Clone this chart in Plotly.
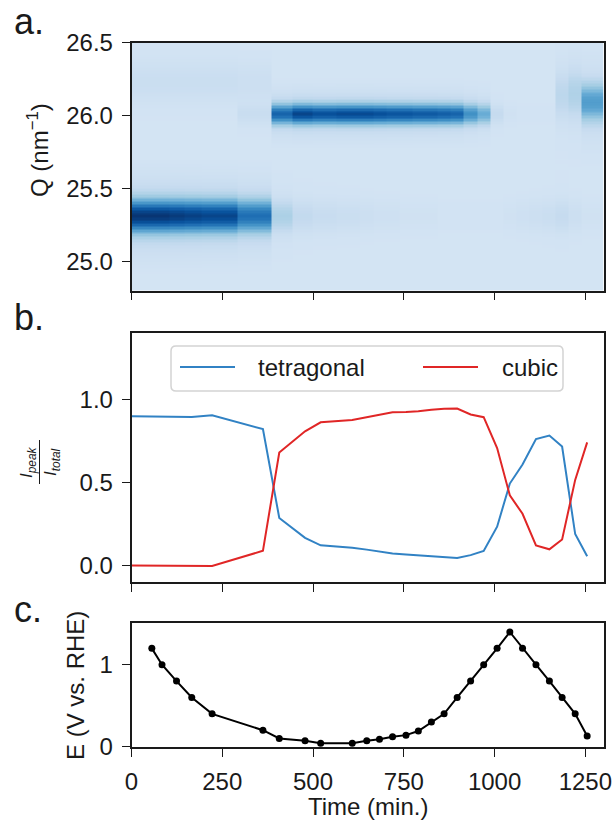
import numpy as np
import plotly.graph_objects as go

# ---------------- data ----------------
# panel c: applied potential
time_c = [56, 84, 124, 166, 222, 362, 407, 478, 521, 608, 648, 683, 719, 756, 790,
          826, 861, 897, 934, 970, 1007, 1042, 1077, 1114, 1151, 1186, 1222, 1255]
potential = [1.2, 1.0, 0.8, 0.6, 0.4, 0.2, 0.1, 0.07, 0.04, 0.04, 0.07, 0.09, 0.12, 0.14, 0.19,
             0.3, 0.4, 0.6, 0.8, 1.0, 1.2, 1.4, 1.2, 1.0, 0.8, 0.6, 0.4, 0.13]

# panel b: phase fractions
time_b = [0, 56, 84, 124, 166, 222, 362, 407, 478, 521, 608, 648, 683, 719, 756, 790,
          826, 861, 897, 934, 970, 1007, 1042, 1077, 1114, 1151, 1186, 1222, 1255]
tetragonal = [0.898, 0.898, 0.898, 0.897, 0.894, 0.904, 0.821, 0.286, 0.166, 0.121, 0.107,
              0.095, 0.082, 0.072, 0.065, 0.060, 0.052, 0.046, 0.045, 0.062, 0.087, 0.233,
              0.493, 0.608, 0.761, 0.782, 0.716, 0.189, 0.055]
cubic = [0.000, 0.000, 0.000, 0.000, 0.001, -0.003, 0.088, 0.680, 0.808, 0.862, 0.876,
         0.894, 0.908, 0.922, 0.924, 0.928, 0.938, 0.944, 0.945, 0.909, 0.893, 0.707,
         0.422, 0.311, 0.120, 0.097, 0.156, 0.515, 0.741]
series_names = ['tetragonal', 'cubic']

# panel a: diffraction map, one column per scan (columns centred on time_c)
tet_amp = [0.80, 0.80, 0.78, 0.76, 0.74, 0.58, 0.15, 0.08, 0.06, 0.05, 0.04, 0.03, 0.03, 0.02,
           0.02, 0.02, 0.01, 0.01, 0.01, 0.01, 0.01, 0.02, 0.03, 0.04, 0.05, 0.07, 0.04, 0.02]
cub_amp = [0.00, 0.00, 0.00, 0.00, 0.00, 0.05, 0.62, 0.74, 0.70, 0.72, 0.72, 0.70, 0.68, 0.68,
           0.66, 0.66, 0.64, 0.62, 0.45, 0.33, 0.07, 0.02, 0.01, 0.01, 0.01, 0.10, 0.14, 0.40]
cub_pos = [26.01] * 25 + [26.14, 26.15, 26.09]
cub_width = [0.8] * 25 + [2.0, 2.0, 1.5]
upper_amp = [0.05, 0.05, 0.05, 0.05, 0.05, 0.04] + [0.0] * 22
background = 0.18
tet_pos = 25.31
tet_width = 1.3
upper_pos = 26.23
upper_width = 1.6
# peak line-shape (relative intensity vs |dQ| in nm^-1)
profile_offset = [0.0, 0.02, 0.04, 0.06, 0.08, 0.10, 0.12, 0.14, 0.16, 0.18, 0.20, 0.22,
                  0.24, 0.26, 0.28, 0.30]
profile_value = [1.0, 0.95, 0.82, 0.62, 0.42, 0.27, 0.17, 0.11, 0.08, 0.06, 0.045, 0.035,
                 0.025, 0.018, 0.012, 0.006]

q_grid = np.round(np.arange(24.80, 26.5001, 0.01), 3)
x_ticks = [0, 250, 500, 750, 1000, 1250]
x_range = [0, 1300]

# ---------------- build map ----------------
def shape(q, centre, width):
    return np.interp(np.abs(q - centre) / width, profile_offset, profile_value, right=0.0)

cols = []
for i in range(len(time_c)):
    col = (background
           + tet_amp[i] * shape(q_grid, tet_pos, tet_width)
           + cub_amp[i] * shape(q_grid, cub_pos[i], cub_width[i])
           + upper_amp[i] * shape(q_grid, upper_pos, upper_width))
    cols.append(col)
z = np.clip(np.array(cols).T, 0, 1)

edges = [x_range[0]] + [(time_c[i] + time_c[i + 1]) / 2 for i in range(len(time_c) - 1)] + [x_range[1]]

blues = [[0.0, '#f7fbff'], [0.125, '#deebf7'], [0.25, '#c6dbef'], [0.375, '#9ecae1'],
         [0.5, '#6baed6'], [0.625, '#4292c6'], [0.75, '#2171b5'], [0.875, '#08519c'],
         [1.0, '#08306b']]

# ---------------- figure ----------------
W, H = 613, 824
FONT = 'Liberation Sans'
FS = 24
INK = '#1a1a1a'
BLUE = '#3182c4'
RED = '#e02626'

def px(x):
    return x / W

def py(y):
    return 1 - y / H

xdom = [px(131.5), px(603.5)]
dom_a = [py(290.5), py(42.7)]
dom_b = [py(582), py(333)]
dom_c = [py(747), py(623)]

fig = go.Figure()
fig.add_trace(go.Heatmap(x=edges, y=q_grid, z=z, colorscale=blues, zmin=0, zmax=1,
                         showscale=False, xaxis='x', yaxis='y', hoverinfo='skip'))
fig.add_trace(go.Scatter(x=time_b, y=tetragonal, mode='lines', name=series_names[0],
                         line=dict(color=BLUE, width=2), xaxis='x2', yaxis='y2'))
fig.add_trace(go.Scatter(x=time_b, y=cubic, mode='lines', name=series_names[1],
                         line=dict(color=RED, width=2), xaxis='x2', yaxis='y2'))
fig.add_trace(go.Scatter(x=time_c, y=potential, mode='lines+markers',
                         line=dict(color='black', width=2), marker=dict(color='black', size=7),
                         xaxis='x3', yaxis='y3'))

axis_common = dict(showline=True, linecolor=INK, linewidth=1.5, mirror=True,
                   ticks='outside', ticklen=8, tickwidth=1.3, tickcolor=INK,
                   ticklabelstandoff=4, automargin=False,
                   showgrid=False, zeroline=False, tickfont=dict(family=FONT, size=FS, color=INK))

fig.update_layout(
    width=W, height=H, margin=dict(l=0, r=0, t=0, b=0, autoexpand=False),
    paper_bgcolor='white', plot_bgcolor='white', showlegend=False,
    font=dict(family=FONT, size=FS, color=INK),
    xaxis=dict(domain=xdom, range=x_range, tickvals=x_ticks, showticklabels=False, anchor='y', **axis_common),
    yaxis=dict(domain=dom_a, range=[24.8, 26.5], tickvals=[25.0, 25.5, 26.0, 26.5],
               ticktext=['25.0', '25.5', '26.0', '26.5'], anchor='x', **axis_common),
    xaxis2=dict(domain=xdom, range=x_range, tickvals=x_ticks, showticklabels=False, anchor='y2', **axis_common),
    yaxis2=dict(domain=dom_b, range=[-0.1, 1.4], tickvals=[0.0, 0.5, 1.0],
                ticktext=['0.0', '0.5', '1.0'], anchor='x2', **axis_common),
    xaxis3=dict(domain=xdom, range=x_range, tickvals=x_ticks, anchor='y3', **axis_common),
    yaxis3=dict(domain=dom_c, range=[-0.005, 1.51], tickvals=[0, 1], anchor='x3', **axis_common),
)

ann = []
def add_text(text, x, y, size=FS, angle=0, xa='center', ya='middle'):
    ann.append(dict(text=text, x=px(x), y=py(y), xref='paper', yref='paper', xanchor=xa,
                    yanchor=ya, textangle=angle, showarrow=False,
                    font=dict(family=FONT, size=size, color=INK)))

for txt, y in [('a.', 22), ('b.', 318), ('c.', 609)]:
    add_text(txt, 12, y, size=36, xa='left')
add_text('Q (nm<sup>−1</sup>)', 38, 150, angle=-90)
add_text('E (V vs. RHE)', 75, 686, angle=-90)
add_text('Time (min.)', 368, 806)
add_text('<i>I<sub>peak</sub></i>', 28, 462, size=17, angle=-90)
add_text('<i>I<sub>total</sub></i>', 52, 462, size=17, angle=-90)

# legend (panel b)
leg_x0, leg_x1, leg_y0, leg_y1 = 171, 563, 346, 391
leg_items = [(series_names[0], BLUE, 180, 256), (series_names[1], RED, 423, 500)]
leg_ymid = 367
for name, colr, lx, tx in leg_items:
    add_text(name, tx, leg_ymid, xa='left')
fig.update_layout(annotations=ann)

r = 5
path = (f'M {px(leg_x0 + r)},{py(leg_y0)} L {px(leg_x1 - r)},{py(leg_y0)} '
        f'Q {px(leg_x1)},{py(leg_y0)} {px(leg_x1)},{py(leg_y0 + r)} '
        f'L {px(leg_x1)},{py(leg_y1 - r)} Q {px(leg_x1)},{py(leg_y1)} {px(leg_x1 - r)},{py(leg_y1)} '
        f'L {px(leg_x0 + r)},{py(leg_y1)} Q {px(leg_x0)},{py(leg_y1)} {px(leg_x0)},{py(leg_y1 - r)} '
        f'L {px(leg_x0)},{py(leg_y0 + r)} Q {px(leg_x0)},{py(leg_y0)} {px(leg_x0 + r)},{py(leg_y0)} Z')
fig.add_shape(type='path', path=path, xref='paper', yref='paper',
              line=dict(color='#d3d3d3', width=1.5), fillcolor='rgba(255,255,255,0.8)')
for name, colr, lx, tx in leg_items:
    fig.add_shape(type='line', xref='paper', yref='paper', x0=px(lx), x1=px(lx + 55),
                  y0=py(leg_ymid), y1=py(leg_ymid), line=dict(color=colr, width=2))

fig.add_shape(type='line', xref='paper', yref='paper', x0=px(39.5), x1=px(39.5),
              y0=py(440), y1=py(484), line=dict(color=INK, width=1))

fig.write_html('out.html')
